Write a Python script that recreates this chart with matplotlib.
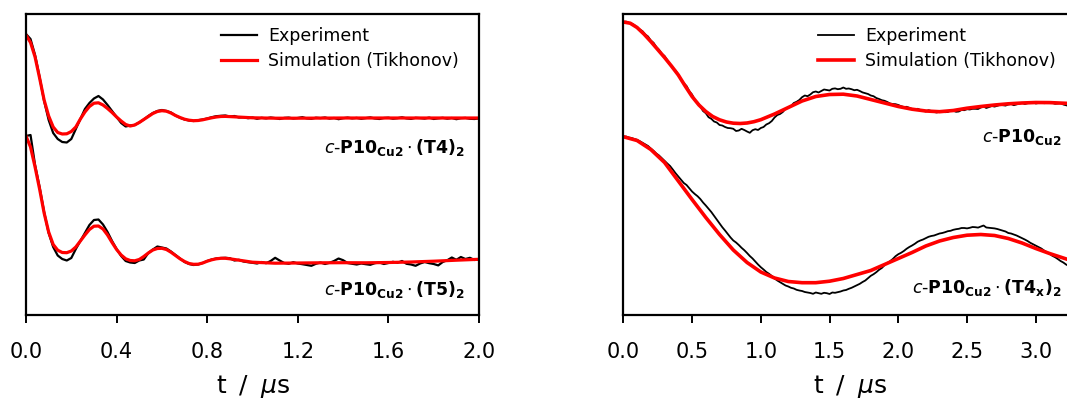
import numpy as np
import matplotlib
matplotlib.use("Agg")
import matplotlib.pyplot as plt

plt.rcParams['font.family'] = ['DejaVu Sans']
plt.rcParams['mathtext.fontset'] = 'dejavusans'

# ---------------- left panel: c-P10Cu2·(T4)2 (upper) and ·(T5)2 (lower) ----------------
LEFT_STEP = 0.02  # us, sampling of the measured traces

t4_exp = [2.81, 2.76, 2.60, 2.38, 2.14, 1.95, 1.82, 1.76, 1.73, 1.725,
          1.76, 1.86, 1.96, 2.06, 2.12, 2.165, 2.19, 2.155, 2.10, 2.04,
          1.98, 1.92, 1.885, 1.895, 1.90, 1.925, 1.955, 1.99, 2.02, 2.04,
          2.05, 2.04, 2.025, 1.995, 1.972, 1.955, 1.945, 1.94, 1.948, 1.955,
          1.965, 1.978, 1.988, 1.992, 1.995, 1.985, 1.99, 1.975, 1.978, 1.968,
          1.975,
          1.962, 1.972, 1.966, 1.975, 1.969, 1.960, 1.971, 1.974, 1.965, 1.970,
          1.978, 1.966, 1.962, 1.973, 1.969, 1.975, 1.964, 1.970, 1.958, 1.968,
          1.974, 1.966, 1.971, 1.962, 1.969, 1.976, 1.965, 1.960, 1.970, 1.973,
          1.963, 1.968, 1.977, 1.966, 1.961, 1.972, 1.969, 1.964, 1.974, 1.960,
          1.967, 1.972, 1.963, 1.970, 1.958, 1.968, 1.971, 1.962, 1.960, 1.966]

t5_exp = [1.79, 1.80, 1.50, 1.28, 1.03, 0.82, 0.68, 0.595, 0.56, 0.545,
          0.57, 0.66, 0.74, 0.82, 0.90, 0.95, 0.955, 0.905, 0.83, 0.74,
          0.66, 0.59, 0.54, 0.525, 0.52, 0.545, 0.555, 0.62, 0.655, 0.685,
          0.675, 0.665, 0.635, 0.60, 0.565, 0.53, 0.51, 0.50, 0.505, 0.52,
          0.54, 0.555, 0.565, 0.57, 0.572, 0.568, 0.545, 0.552, 0.535, 0.528,
          0.522,
          0.515, 0.530, 0.518, 0.540, 0.572, 0.545, 0.520, 0.512, 0.528, 0.515,
          0.508, 0.500, 0.492, 0.512, 0.525, 0.510, 0.522, 0.540, 0.565, 0.548,
          0.520, 0.512, 0.505, 0.515, 0.508, 0.502, 0.518, 0.525, 0.510, 0.520,
          0.532, 0.522, 0.540, 0.512, 0.505, 0.492, 0.515, 0.530, 0.518, 0.510,
          0.496, 0.530, 0.548, 0.575, 0.552, 0.580, 0.560, 0.572, 0.550, 0.556]

t_left_sim = [0.00, 0.02, 0.04, 0.06, 0.08, 0.10, 0.12, 0.14, 0.16, 0.18,
              0.20, 0.22, 0.24, 0.26, 0.28, 0.30, 0.32, 0.34, 0.36, 0.38,
              0.40, 0.42, 0.44, 0.46, 0.48, 0.50, 0.52, 0.54, 0.56, 0.58,
              0.60, 0.62, 0.64, 0.66, 0.68, 0.70, 0.72, 0.74, 0.76, 0.78,
              0.80, 0.82, 0.84, 0.86, 0.88, 0.90, 0.95, 1.00, 1.10, 1.20,
              1.30, 1.40, 1.50, 1.60, 1.70, 1.80, 1.90, 2.00]

t4_sim = [2.80, 2.725, 2.58, 2.37, 2.15, 1.99, 1.88, 1.825, 1.81, 1.812,
          1.835, 1.88, 1.96, 2.03, 2.085, 2.118, 2.122, 2.10, 2.065, 2.025,
          1.98, 1.94, 1.905, 1.89, 1.90, 1.925, 1.955, 1.985, 2.015, 2.035,
          2.043, 2.038, 2.02, 1.995, 1.975, 1.958, 1.948, 1.943, 1.945, 1.952,
          1.962, 1.972, 1.98, 1.985, 1.986, 1.984, 1.978, 1.972, 1.968, 1.968,
          1.969, 1.970, 1.970, 1.970, 1.970, 1.970, 1.970, 1.970]

t5_sim = [1.79, 1.68, 1.48, 1.26, 1.02, 0.83, 0.705, 0.648, 0.625, 0.623,
          0.64, 0.68, 0.74, 0.80, 0.855, 0.888, 0.89, 0.86, 0.80, 0.725,
          0.655, 0.60, 0.562, 0.545, 0.542, 0.555, 0.585, 0.62, 0.65, 0.665,
          0.667, 0.655, 0.628, 0.595, 0.562, 0.535, 0.515, 0.507, 0.508, 0.52,
          0.538, 0.552, 0.562, 0.567, 0.567, 0.562, 0.545, 0.528, 0.518, 0.520,
          0.522, 0.523, 0.522, 0.525, 0.530, 0.538, 0.548, 0.557]

# ---------------- right panel: c-P10Cu2 (upper) and ·(T4x)2 (lower) ----------------
RIGHT_STEP = 0.02  # us

p10_exp = [2.930, 2.934, 2.922, 2.915, 2.900, 2.872, 2.855, 2.838, 2.805, 2.785,
           2.745, 2.722, 2.680, 2.652, 2.612, 2.590, 2.548, 2.500, 2.470, 2.445,
           2.405, 2.352, 2.318, 2.290, 2.238, 2.205, 2.150, 2.125, 2.085, 2.040,
           2.018, 1.978, 1.962, 1.935, 1.925, 1.900, 1.895, 1.880, 1.870, 1.868,
           1.862, 1.840, 1.845, 1.862, 1.850, 1.835, 1.822, 1.848, 1.858, 1.850,
           1.870, 1.880, 1.905, 1.918, 1.940, 1.975, 2.000, 2.010, 2.030, 2.062,
           2.075, 2.090, 2.120, 2.132, 2.150, 2.178, 2.195, 2.188, 2.205, 2.228,
           2.235, 2.225, 2.240, 2.255, 2.250, 2.245, 2.262, 2.266, 2.258, 2.262,
           2.275, 2.262, 2.265, 2.258, 2.248, 2.252, 2.240, 2.226, 2.218, 2.210,
           2.195, 2.188, 2.170, 2.160, 2.148, 2.142, 2.130, 2.115, 2.110, 2.108,
           2.100, 2.088, 2.080, 2.082, 2.072, 2.060, 2.058, 2.062, 2.050, 2.042,
           2.035, 2.048, 2.040, 2.030, 2.025, 2.036, 2.038, 2.028, 2.030, 2.045,
           2.042, 2.032, 2.035, 2.050, 2.048, 2.058, 2.055, 2.062, 2.062, 2.060,
           2.075, 2.085, 2.070, 2.080, 2.090, 2.084, 2.092, 2.102, 2.098, 2.094,
           2.105, 2.110, 2.098, 2.106, 2.115, 2.122, 2.110, 2.118, 2.122, 2.128,
           2.115, 2.120, 2.128, 2.118, 2.120, 2.130, 2.122, 2.112, 2.115, 2.120,
           2.105, 2.098, 2.090]

t4x_exp = [1.783, 1.785, 1.775, 1.770, 1.760, 1.752, 1.738, 1.722, 1.705, 1.690,
           1.665, 1.642, 1.615, 1.595, 1.568, 1.540, 1.515, 1.490, 1.455, 1.418,
           1.385, 1.352, 1.320, 1.300, 1.268, 1.235, 1.210, 1.188, 1.160, 1.125,
           1.095, 1.062, 1.030, 0.992, 0.955, 0.915, 0.878, 0.845, 0.810, 0.775,
           0.745, 0.725, 0.700, 0.672, 0.648, 0.620, 0.590, 0.565, 0.535, 0.505,
           0.478, 0.455, 0.430, 0.412, 0.390, 0.365, 0.345, 0.328, 0.310, 0.295,
           0.285, 0.272, 0.265, 0.252, 0.245, 0.240, 0.230, 0.225, 0.220, 0.212,
           0.225, 0.218, 0.212, 0.222, 0.218, 0.210, 0.225, 0.222, 0.228, 0.235,
           0.245, 0.250, 0.262, 0.272, 0.285, 0.298, 0.312, 0.330, 0.345, 0.368,
           0.392, 0.408, 0.428, 0.452, 0.470, 0.498, 0.520, 0.538, 0.560, 0.588,
           0.608, 0.622, 0.640, 0.662, 0.680, 0.695, 0.712, 0.732, 0.745, 0.755,
           0.768, 0.782, 0.790, 0.795, 0.805, 0.815, 0.820, 0.828, 0.838, 0.842,
           0.852, 0.858, 0.862, 0.870, 0.870, 0.866, 0.872, 0.880, 0.878, 0.874,
           0.885, 0.895, 0.875, 0.872, 0.870, 0.866, 0.860, 0.852, 0.845, 0.835,
           0.820, 0.815, 0.805, 0.795, 0.782, 0.768, 0.755, 0.740, 0.722, 0.708,
           0.695, 0.680, 0.665, 0.645, 0.628, 0.612, 0.592, 0.578, 0.560, 0.540,
           0.525, 0.505, 0.490]

t_p10_sim = [0.00, 0.05, 0.10, 0.15, 0.20, 0.25, 0.30, 0.35, 0.40, 0.45,
             0.50, 0.55, 0.60, 0.65, 0.70, 0.75, 0.80, 0.85, 0.90, 0.95,
             1.00, 1.10, 1.20, 1.30, 1.40, 1.50, 1.60, 1.70, 1.80, 1.90,
             2.00, 2.10, 2.20, 2.30, 2.40, 2.50, 2.60, 2.70, 2.80, 2.90,
             3.00, 3.10, 3.20, 3.30]
p10_sim = [2.930, 2.918, 2.875, 2.81, 2.735, 2.655, 2.575, 2.49, 2.40, 2.29,
           2.185, 2.10, 2.035, 1.985, 1.952, 1.93, 1.918, 1.915, 1.92, 1.933,
           1.953, 2.01, 2.075, 2.14, 2.185, 2.205, 2.208, 2.19, 2.155, 2.12,
           2.085, 2.058, 2.040, 2.033, 2.045, 2.068, 2.085, 2.100, 2.112, 2.120,
           2.125, 2.124, 2.118, 2.112]

t_t4x_sim = [0.00, 0.10, 0.20, 0.30, 0.40, 0.50, 0.60, 0.70, 0.80, 0.90,
             1.00, 1.10, 1.20, 1.30, 1.40, 1.50, 1.60, 1.70, 1.80, 1.90,
             2.00, 2.10, 2.20, 2.30, 2.40, 2.50, 2.60, 2.70, 2.80, 2.90,
             3.00, 3.10, 3.20, 3.30]
t4x_sim = [1.783, 1.745, 1.655, 1.525, 1.34, 1.155, 0.975, 0.805, 0.65, 0.525,
           0.43, 0.37, 0.335, 0.323, 0.323, 0.338, 0.365, 0.405, 0.445, 0.505,
           0.565, 0.625, 0.69, 0.74, 0.775, 0.798, 0.805, 0.795, 0.765, 0.72,
           0.665, 0.615, 0.57, 0.525]

left_ticks = [0.0, 0.4, 0.8, 1.2, 1.6, 2.0]
right_ticks = [0.0, 0.5, 1.0, 1.5, 2.0, 2.5, 3.0]

EXP_COLOR = 'black'
SIM_COLOR = '#ff0000'


def sample_times(values, step):
    return np.round(np.arange(len(values)) * step, 4)


W, H = 1067, 401
fig = plt.figure(figsize=(W / 100, H / 100), dpi=100)
ax1 = fig.add_axes([26 / W, 86 / H, 453 / W, 301 / H])
ax2 = fig.add_axes([623.3 / W, 86 / H, 453.75 / W, 301 / H])


def style(ax, xmax, ticks):
    ax.set_xlim(0, xmax)
    ax.set_ylim(0, 3.01)
    ax.set_xticks(ticks)
    ax.set_xticklabels([f'{v:.1f}' for v in ticks])
    ax.set_yticks([])
    for s in ax.spines.values():
        s.set_linewidth(1.6)
    ax.tick_params(axis='x', direction='out', length=6, width=1.4,
                   labelsize=15, pad=13.5)
    ax.set_xlabel('t \u2009/\u2009 $\\mu$s', fontsize=18, labelpad=8)


style(ax1, 2.0, left_ticks)
style(ax2, 3.3, right_ticks)

ax1.plot(sample_times(t4_exp, LEFT_STEP), t4_exp, color=EXP_COLOR, lw=1.6, label='Experiment')
ax1.plot(sample_times(t5_exp, LEFT_STEP), t5_exp, color=EXP_COLOR, lw=1.6)
ax1.plot(t_left_sim, t4_sim, color=SIM_COLOR, lw=2.3, label='Simulation (Tikhonov)')
ax1.plot(t_left_sim, t5_sim, color=SIM_COLOR, lw=2.3)

ax2.plot(sample_times(p10_exp, RIGHT_STEP), p10_exp, color=EXP_COLOR, lw=1.3, label='Experiment')
ax2.plot(sample_times(t4x_exp, RIGHT_STEP), t4x_exp, color=EXP_COLOR, lw=1.3)
ax2.plot(t_p10_sim, p10_sim, color=SIM_COLOR, lw=2.6, label='Simulation (Tikhonov)')
ax2.plot(t_t4x_sim, t4x_sim, color=SIM_COLOR, lw=2.6)

lab_kw = dict(ha='right', va='center', fontsize=12.5)
ax1.text(1.94, 1.68, r'$\mathit{c}$-$\mathbf{P10}_{\mathbf{Cu2}}\cdot\mathbf{(T4)}_{\mathbf{2}}$', **lab_kw)
ax1.text(1.94, 0.25, r'$\mathit{c}$-$\mathbf{P10}_{\mathbf{Cu2}}\cdot\mathbf{(T5)}_{\mathbf{2}}$', **lab_kw)
ax2.text(3.19, 1.78, r'$\mathit{c}$-$\mathbf{P10}_{\mathbf{Cu2}}$', **lab_kw)
ax2.text(3.19, 0.28, r'$\mathit{c}$-$\mathbf{P10}_{\mathbf{Cu2}}\cdot\mathbf{(T4}_{\mathbf{x}}\mathbf{)}_{\mathbf{2}}$', **lab_kw)

for ax, x0 in ((ax1, 221), (ax2, 818)):
    ax.legend(loc='upper left', bbox_to_anchor=(x0 / W, 1 - 27 / H),
              bbox_transform=fig.transFigure, frameon=False, fontsize=12.5,
              borderpad=0, borderaxespad=0, handlelength=2.05,
              handletextpad=0.65, labelspacing=0.42)

fig.savefig('out.png', dpi=100)
